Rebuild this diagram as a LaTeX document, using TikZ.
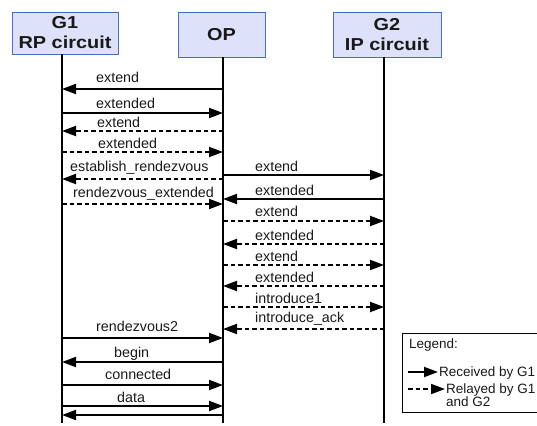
\documentclass[tikz,border=0pt]{standalone}
\usepackage{fontspec}
\setmainfont{Liberation Sans}
\newfontfamily\hdrfont[FakeStretch=1.15]{Liberation Sans}
\usetikzlibrary{arrows.meta}
\definecolor{boxfill}{RGB}{221,225,249}
\definecolor{boxline}{RGB}{70,110,190}
\definecolor{txt}{RGB}{25,25,25}
\tikzset{
  hdr/.style={draw=boxline, line width=0.9pt, fill=boxfill, inner sep=0pt, align=center,
    font=\hdrfont\bfseries\fontsize{17.3}{20}\selectfont, text=txt},
  life/.style={line width=2pt},
  sm/.style={line width=2pt, -{Triangle[length=14pt,width=10pt]}},
  dm/.style={line width=2pt, dash pattern=on 4.5pt off 3pt, -{Triangle[length=14pt,width=10pt]}},
  lbl/.style={anchor=base west, inner sep=0pt, font=\fontsize{14.3}{16}\selectfont, text=txt},
  lgd/.style={anchor=base west, inner sep=0pt, font=\fontsize{13.5}{15}\selectfont, text=txt},
}
\begin{document}
\begin{tikzpicture}[x=1pt,y=-1pt]
\useasboundingbox (0,0) rectangle (537,425);
% header boxes
\node[hdr, minimum width=106pt, minimum height=42pt] (b1) at (65,33) {G1\\RP circuit};
\node[hdr, minimum width=87pt, minimum height=45pt] (bop) at (221.5,34.5) {OP};
\node[hdr, minimum width=108pt, minimum height=45pt] (b2) at (387,34.5) {G2\\IP circuit};
% lifelines
\coordinate (g1) at (62,54);
\coordinate (op) at (223,57);
\coordinate (g2) at (384,57);
\coordinate (g1e) at (62,423);
\coordinate (ope) at (223,423);
\coordinate (g2e) at (384,423);
\draw[life] (g1) -- (g1e);
\draw[life] (op) -- (ope);
\draw[life] (g2) -- (g2e);
% left messages
\draw[sm] (op |- 0,89) -- (g1 |- 0,89);
\node[lbl] (t1) at (96,83) {extend};
\draw[sm] (g1 |- 0,113) -- (op |- 0,113);
\node[lbl] (t2) at (96,108) {extended};
\draw[dm] (op |- 0,131) -- (g1 |- 0,131);
\node[lbl] (t3) at (97,127) {extend};
\draw[dm] (g1 |- 0,152) -- (op |- 0,152);
\node[lbl] (t4) at (98,148) {extended};
\draw[dm] (op |- 0,179) -- (g1 |- 0,179);
\node[lbl] (t5) at (70,171) {establish\_rendezvous};
\draw[dm] (g1 |- 0,204) -- (op |- 0,204);
\node[lbl] (t6) at (73,197) {rendezvous\_extended};
% right messages
\draw[sm] (op |- 0,175) -- (g2 |- 0,175);
\node[lbl] (r1) at (255,171) {extend};
\draw[sm] (g2 |- 0,199) -- (op |- 0,199);
\node[lbl] (r2) at (255,195) {extended};
\draw[dm] (op |- 0,221) -- (g2 |- 0,221);
\node[lbl] (r3) at (255,216) {extend};
\draw[dm] (g2 |- 0,244) -- (op |- 0,244);
\node[lbl] (r4) at (255,240) {extended};
\draw[dm] (op |- 0,265) -- (g2 |- 0,265);
\node[lbl] (r5) at (255,261) {extend};
\draw[dm] (g2 |- 0,286) -- (op |- 0,286);
\node[lbl] (r6) at (255,282) {extended};
\draw[dm] (op |- 0,307) -- (g2 |- 0,307);
\node[lbl] (r7) at (255,303) {introduce1};
\draw[dm] (g2 |- 0,329) -- (op |- 0,329);
\node[lbl] (r8) at (255,322) {introduce\_ack};
% bottom messages
\draw[sm] (g1 |- 0,338) -- (op |- 0,338);
\node[lbl] (u1) at (96,331) {rendezvous2};
\draw[sm] (op |- 0,362) -- (g1 |- 0,362);
\node[lbl] (u2) at (114,357) {begin};
\draw[sm] (g1 |- 0,385) -- (op |- 0,385);
\node[lbl] (u3) at (105,379) {connected};
\draw[sm] (g1 |- 0,406) -- (op |- 0,406);
\node[lbl] (u4) at (117,402) {data};
\draw[sm] (op |- 0,415) -- (g1 |- 0,415);
% legend
\begin{scope}
\clip (0,0) rectangle (537,425);
\draw[line width=0.9pt] (580,333) -- (402,333) -- (402,412) -- (580,412);
\node[lgd] (lg) at (409,348) {Legend:};
\coordinate (la1) at (408,372);
\coordinate (la2) at (438,372);
\draw[sm, line width=1.8pt] (la1) -- (la2);
\node[lgd] (lr) at (439,376) {Received by G1};
\coordinate (lb1) at (408,389);
\coordinate (lb2) at (445,389);
\draw[dm, line width=1.8pt] (lb1) -- (lb2);
\node[lgd] (ll) at (446,393) {Relayed by G1};
\node[lgd] (la) at (446,406) {and G2};
\end{scope}
\end{tikzpicture}
\end{document}
